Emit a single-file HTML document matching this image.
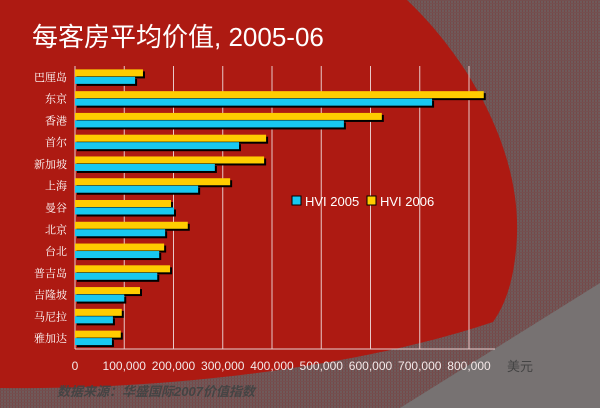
<!DOCTYPE html>
<html><head><meta charset="utf-8"><style>
body{margin:0;width:600px;height:408px;overflow:hidden;font-family:"Liberation Sans","Noto Sans CJK SC",sans-serif}
svg{display:block}
</style></head><body>
<svg width="600" height="408">
<defs>
<pattern id="grid" width="3" height="3" patternUnits="userSpaceOnUse"><rect width="3" height="3" fill="#6f5a5a"/><rect width="1" height="3" fill="#764848"/><rect width="3" height="1" fill="#735050"/></pattern>
</defs>
<rect width="600" height="408" fill="url(#grid)"/>
<path d="M400,408 L600,283 L600,408 Z" fill="#777272"/>
<path d="M0,0 L407,0 C470,60 520,150 517,235 C515,280 505,305 493,322 C380,360 200,390 0,388 Z" fill="#ad1a12"/>
<text x="32" y="46" fill="#fff" font-size="26">每客房平均价值, 2005-06</text>
<g id="plot"></g>
<text x="507" y="371" fill="#444" font-size="13">美元</text>
<text x="57" y="396" fill="#444" font-size="13" font-style="italic" font-weight="bold">数据来源：华盛国际2007价值指数</text>
<g>
<rect x="292" y="196" width="9" height="9" fill="#18c8f0" stroke="#000" stroke-width="1"/>
<text x="305" y="206" fill="#fff" font-size="13">HVI 2005</text>
<rect x="367" y="196" width="9" height="9" fill="#ffcc00" stroke="#000" stroke-width="1"/>
<text x="380" y="206" fill="#fff" font-size="13">HVI 2006</text>
</g>
</svg>
<script>
const categories=["巴厘岛","东京","香港","首尔","新加坡","上海","曼谷","北京","台北","普吉岛","吉隆坡","马尼拉","雅加达"];
const hvi2005=[122000,725000,546000,333000,284000,250000,201000,183000,171000,167000,100000,77000,75000];
const hvi2006=[138000,830000,623000,388000,384000,315000,195000,229000,181000,193000,132000,95000,93000];
const ticks=[0,100000,200000,300000,400000,500000,600000,700000,800000];
const tickLabels=["0","100,000","200,000","300,000","400,000","500,000","600,000","700,000","800,000"];
const NS="http://www.w3.org/2000/svg";
const plotG=document.getElementById('plot');
const x0=75,x1=469,yTop=66,yBottom=349;
const xs=v=>x0+(v/800000)*(x1-x0);
const band=(yBottom-yTop)/categories.length;
function el(t,a){const e=document.createElementNS(NS,t);for(const k in a)e.setAttribute(k,a[k]);plotG.appendChild(e);return e;}
ticks.forEach((t,i)=>{
 if(i>0){const l=el('line',{x1:xs(t),x2:xs(t),y1:yTop,y2:yBottom,stroke:'#e8c8c8','stroke-width':1});
 
 }
 const tx=el('text',{x:xs(t),y:370,fill:'#f4e8e8','font-size':12,'text-anchor':'middle'});tx.textContent=tickLabels[i];
 
 
});
const ax=el('line',{x1:x0,x2:495,y1:yBottom,y2:yBottom,stroke:'#e8d0d0','stroke-width':1});


const ay=el('line',{x1:x0,x2:x0,y1:yTop,y2:yBottom,stroke:'#e8d0d0','stroke-width':1});


categories.forEach((c,i)=>{
 const cy=yTop+band*(i+0.5);
 const lb=el('text',{x:67,y:cy+4,fill:'#fff','font-size':11,'text-anchor':'end','font-family':'"Noto Serif CJK SC",serif'});lb.textContent=c;
 
 
 const yb=cy-7.5, cb=cy;
 const specs=[[yb,hvi2006[i],'#ffcc00','bar-2006'],[cb,hvi2005[i],'#18c8f0','bar-2005']];
 specs.forEach(([y,v])=>{
  const s=el('rect',{x:x0+2,y:y+2,width:xs(v)-x0,height:7,fill:'#000'});
  
  
 });
 specs.forEach(([y,v,col,nm])=>{
  const r=el('rect',{x:x0,y:y,width:xs(v)-x0,height:7,fill:col});
  
  
 });
});
</script>
</body></html>
